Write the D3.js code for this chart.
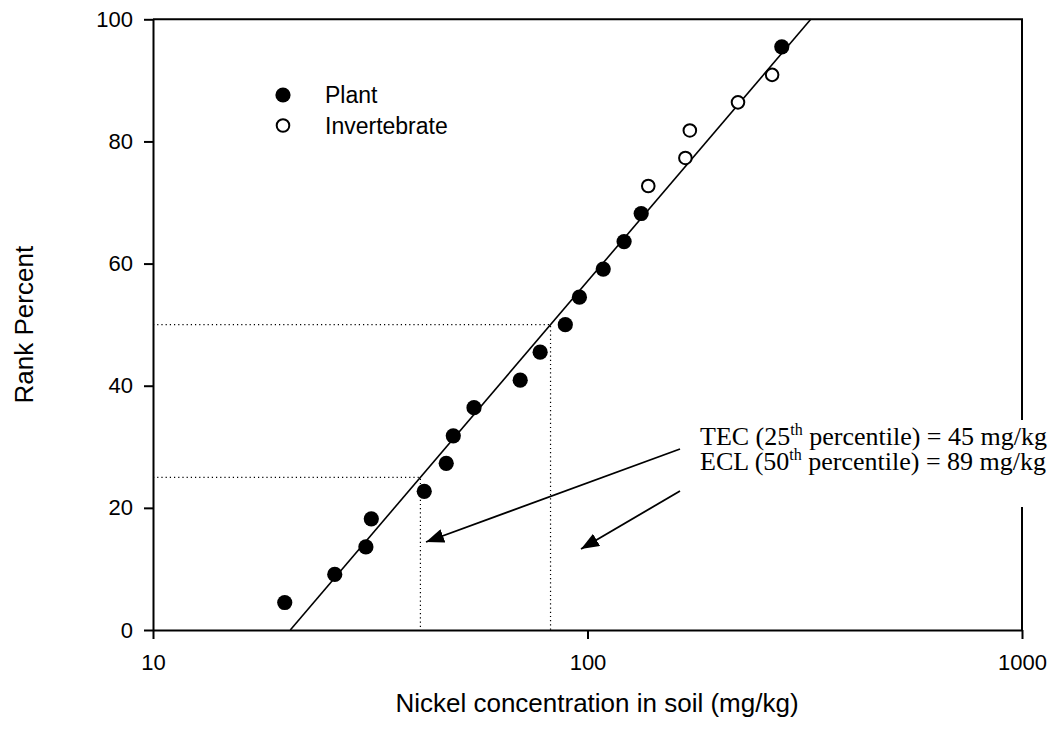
<!DOCTYPE html>
<html>
<head>
<meta charset="utf-8">
<script src="https://cdn.jsdelivr.net/npm/d3@7"></script>
<style>
  body { margin: 0; background: #fff; }
  svg { display: block; }
  .tick text { font-family: "Liberation Sans", Arial, sans-serif; font-size: 22px; fill: #000; }
</style>
</head>
<body>
<svg width="1060" height="732"></svg>
<script>
// concentrations (mg/kg) and rank percents
var plantConc = [20.1, 26.2, 30.9, 31.8, 42.1, 47.3, 49.1, 54.8, 70.0, 77.8, 88.9, 95.8, 108.7, 121.4, 132.9, 280];
var plantRank = [4.5, 9.1, 13.6, 18.2, 22.7, 27.3, 31.8, 36.4, 40.9, 45.5, 50.0, 54.5, 59.1, 63.6, 68.2, 95.5];
var invConc = [138, 168, 172, 222, 266];
var invRank = [72.7, 77.3, 81.8, 86.4, 90.9];
// fitted line end points (conc, rank)
var fitConc = [20.7, 326.5];
var fitRank = [0, 100];
var percentiles = [25, 50];
var xTicks = [10, 100, 1000];
var yTicks = [0, 20, 40, 60, 80, 100];
var noteLines = [
  {pre: 'TEC (25', post: ' percentile) = 45 mg/kg'},
  {pre: 'ECL (50', post: ' percentile) = 89 mg/kg'}
];

var pLeft = 153, pRight = 1022, pTop = 19.3, pBottom = 630;
var svg = d3.select('svg');

var x = d3.scaleLog().domain([10, 1000]).range([pLeft, pRight]);
var y = d3.scaleLinear().domain([0, 100]).range([pBottom, pTop]);

var xAxis = d3.axisBottom(x).tickValues(xTicks).tickFormat(d3.format('d'))
    .tickSize(9).tickSizeOuter(0).tickPadding(15);
var yAxis = d3.axisLeft(y).tickValues(yTicks).tickSize(9).tickSizeOuter(0).tickPadding(11);

svg.append('g')
    .attr('transform', 'translate(0,' + pBottom + ')')
    .call(xAxis)
    .call(g => g.selectAll('path, line').attr('stroke', '#000').attr('stroke-width', 2));

svg.append('g')
    .attr('transform', 'translate(' + pLeft + ',0)')
    .call(yAxis)
    .call(g => g.selectAll('path, line').attr('stroke', '#000').attr('stroke-width', 2));

// top and right frame
svg.append('path')
    .attr('d', 'M' + pLeft + ',' + pTop + 'H' + pRight + 'V' + pBottom)
    .attr('fill', 'none')
    .attr('stroke', '#000')
    .attr('stroke-width', 2);

// fitted line
var fit = fitConc.map((c, i) => ({c: c, r: fitRank[i]}));
var slope = (fitRank[1] - fitRank[0]) / (Math.log10(fitConc[1]) - Math.log10(fitConc[0]));
function concAt(r) {
  return Math.pow(10, Math.log10(fitConc[0]) + (r - fitRank[0]) / slope);
}

// dotted guide lines
percentiles.forEach(function(p) {
  var c = concAt(p);
  svg.append('path')
      .attr('d', 'M' + pLeft + ',' + y(p) + 'H' + x(c) + 'V' + pBottom)
      .attr('fill', 'none')
      .attr('stroke', '#000')
      .attr('stroke-width', 1.2)
      .attr('stroke-dasharray', '1.2,3');
});

svg.append('path')
    .datum(fit)
    .attr('d', d3.line().x(d => x(d.c)).y(d => y(d.r)))
    .attr('fill', 'none')
    .attr('stroke', '#000')
    .attr('stroke-width', 1.6);

// points
svg.append('g').selectAll('circle')
    .data(plantConc)
    .enter()
    .append('circle')
      .attr('cx', d => x(d))
      .attr('cy', (d, i) => y(plantRank[i]))
      .attr('r', 7.6)
      .attr('fill', '#000');

svg.append('g').selectAll('circle')
    .data(invConc)
    .enter()
    .append('circle')
      .attr('cx', d => x(d))
      .attr('cy', (d, i) => y(invRank[i]))
      .attr('r', 6.3)
      .attr('fill', '#fff')
      .attr('stroke', '#000')
      .attr('stroke-width', 2);

// legend
var legend = svg.append('g').attr('font-family', '"Liberation Sans", Arial, sans-serif').attr('font-size', 23);
legend.append('circle').attr('cx', 283).attr('cy', 95).attr('r', 7.6).attr('fill', '#000');
legend.append('circle').attr('cx', 283).attr('cy', 125.5).attr('r', 6.3)
    .attr('fill', '#fff').attr('stroke', '#000').attr('stroke-width', 2);
legend.append('text').attr('x', 325).attr('y', 103).text('Plant');
legend.append('text').attr('x', 325).attr('y', 133.5).text('Invertebrate');

// axis titles
svg.append('text')
    .attr('x', 597)
    .attr('y', 712)
    .attr('text-anchor', 'middle')
    .attr('font-family', '"Liberation Sans", Arial, sans-serif')
    .attr('font-size', 26)
    .text('Nickel concentration in soil (mg/kg)');

svg.append('text')
    .attr('transform', 'translate(33,' + ((pTop + pBottom) / 2) + ') rotate(-90)')
    .attr('text-anchor', 'middle')
    .attr('font-family', '"Liberation Sans", Arial, sans-serif')
    .attr('font-size', 26)
    .text('Rank Percent');

// arrows
var defs = svg.append('defs');
defs.append('marker')
    .attr('id', 'head')
    .attr('markerUnits', 'userSpaceOnUse')
    .attr('viewBox', '0 0 18 14')
    .attr('refX', 18).attr('refY', 7)
    .attr('markerWidth', 18).attr('markerHeight', 14)
    .attr('orient', 'auto')
  .append('path')
    .attr('d', 'M0,0L18,7L0,14Z')
    .attr('fill', '#000');

svg.append('line')
    .attr('x1', 680).attr('y1', 449).attr('x2', 426).attr('y2', 542)
    .attr('stroke', '#000').attr('stroke-width', 1.8).attr('marker-end', 'url(#head)');
svg.append('line')
    .attr('x1', 680).attr('y1', 491).attr('x2', 581).attr('y2', 549)
    .attr('stroke', '#000').attr('stroke-width', 1.8).attr('marker-end', 'url(#head)');

// note with white background
svg.append('rect')
    .attr('x', 692).attr('y', 420).attr('width', 368).attr('height', 87)
    .attr('fill', '#fff');

var note = svg.append('g')
    .attr('font-family', '"Liberation Serif", "Times New Roman", serif')
    .attr('font-size', 26);
noteLines.forEach(function(l, i) {
  var t = note.append('text').attr('x', 700).attr('y', 444.5 + i * 25.5);
  t.append('tspan').text(l.pre);
  t.append('tspan').attr('font-size', 16).attr('dy', -10).text('th');
  t.append('tspan').attr('dy', 10).text(l.post);
});
</script>
</body>
</html>
